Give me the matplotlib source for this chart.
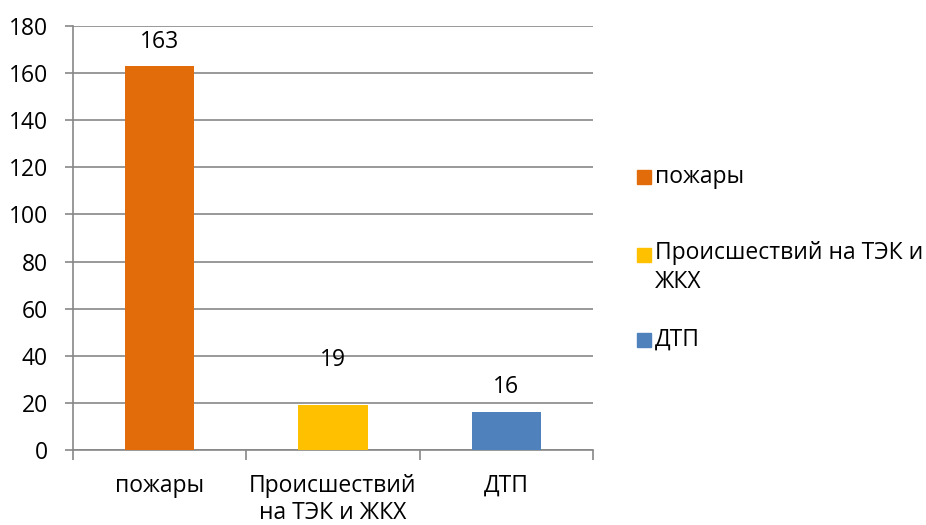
import matplotlib
matplotlib.use("Agg")
import matplotlib.pyplot as plt
from matplotlib.patches import Rectangle
import numpy as np

categories = ["пожары", "Происшествий\nна ТЭК и ЖКХ", "ДТП"]
legend_labels = ["пожары", "Происшествий на ТЭК и\nЖКХ", "ДТП"]
values = [163, 19, 16]
colors = ["#E36C0A", "#FFC000", "#4F81BD"]
label_offsets = [12, 33, 13]  # px above bar tops (style)

plt.rcParams['font.family'] = ['Open Sans', 'DejaVu Sans']
FS = 16.5
W, H = 926, 525
fig = plt.figure(figsize=(W / 100, H / 100), dpi=100)
ax = fig.add_axes([73 / W, 1 - 450 / H, (593 - 73) / W, (450 - 26) / H])

x = np.arange(len(categories))
ax.bar(x, values, width=0.4, color=colors, zorder=3)
ax.set_xlim(-0.5, len(categories) - 0.5)
ax.set_ylim(0, 180)
ax.set_yticks(np.arange(0, 181, 20))
ax.grid(axis='y', color='#878787', linewidth=1.2, zorder=0)
for s in ['top', 'right']:
    ax.spines[s].set_visible(False)
for s in ['left', 'bottom']:
    ax.spines[s].set_color('#878787')
    ax.spines[s].set_linewidth(1.2)
ax.tick_params(axis='y', colors='#878787', length=6, width=1.2, labelcolor='black', labelsize=FS, pad=12)
ax.set_xticks(np.arange(-0.5, len(categories), 1))
ax.set_xticklabels([])
ax.tick_params(axis='x', colors='#878787', length=7, width=1.2)
ax.set_xticks(x, minor=True)
ax.set_xticklabels(categories, minor=True, fontsize=FS, linespacing=1.2)
ax.tick_params(axis='x', which='minor', length=0, pad=17, labelcolor='black')

for xi, v, off in zip(x, values, label_offsets):
    ax.annotate(str(v), (xi, v), xytext=(0, off), textcoords='offset pixels',
                ha='center', va='bottom', fontsize=FS)

# legend
leg_y = [177, 255, 340]
for lab, c, yy in zip(legend_labels, colors, leg_y):
    fig.patches.append(Rectangle((637 / W, 1 - (yy + 7) / H), 14 / W, 14 / H,
                                 color=c, transform=fig.transFigure))
    if '\n' in lab:
        fig.text(655 / W, 1 - (yy - 14) / H, lab, ha='left', va='top',
                 fontsize=FS, linespacing=1.25)
    else:
        fig.text(655 / W, 1 - yy / H, lab, ha='left', va='center', fontsize=FS)

fig.savefig("out.png", dpi=100)
